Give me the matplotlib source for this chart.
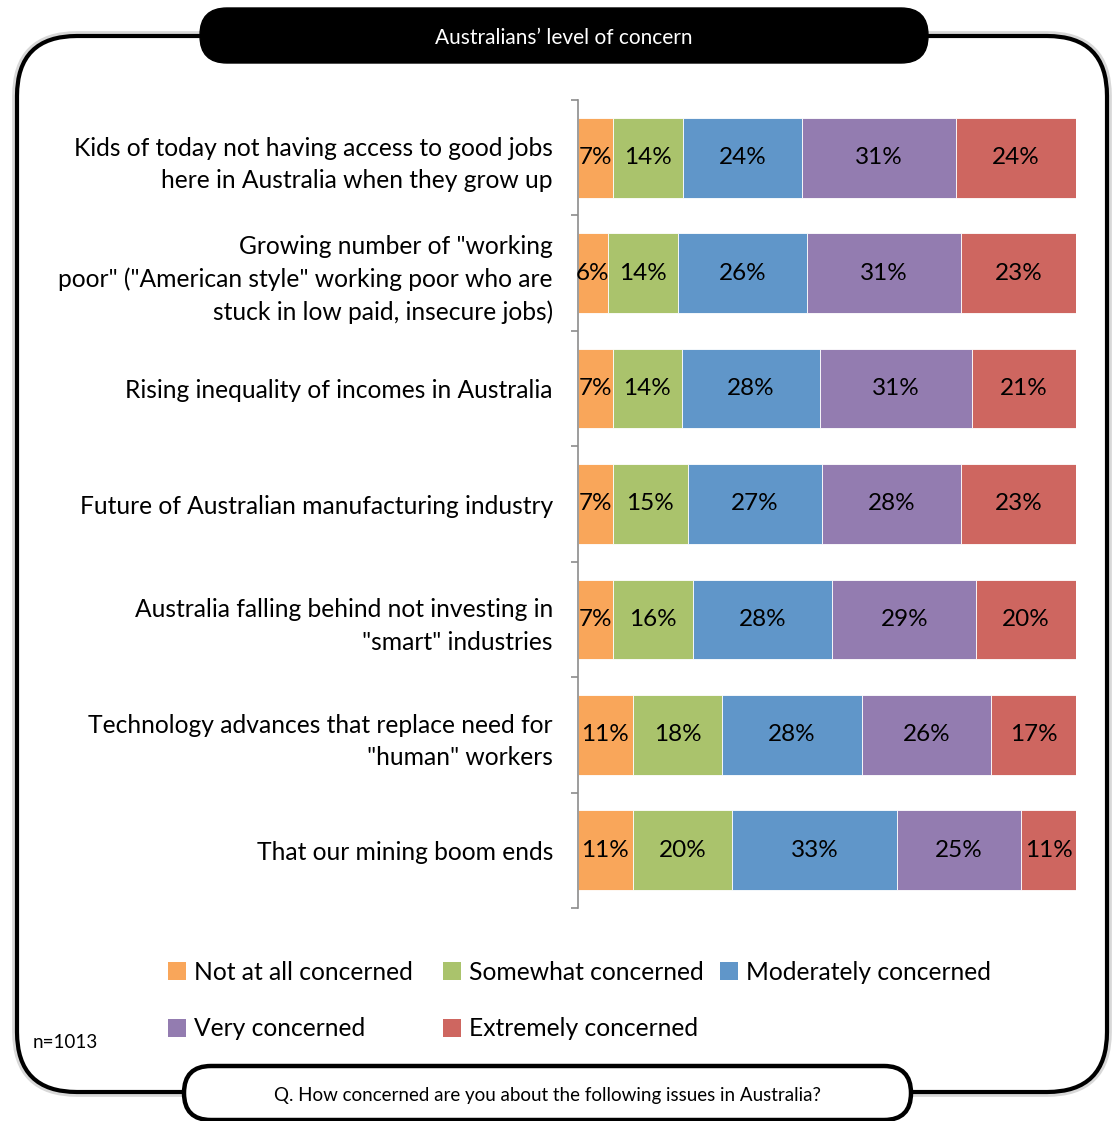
import numpy as np
import matplotlib
matplotlib.use("Agg")
import matplotlib.pyplot as plt
from matplotlib.patches import FancyBboxPatch, Patch

plt.rcParams['font.family'] = ['Lato', 'DejaVu Sans']

# survey results, % of respondents per issue
issues = [
    "Kids of today not having access to good jobs\nhere in Australia when they grow up",
    "Growing number of \"working\npoor\" (\"American style\" working poor who are\nstuck in low paid, insecure jobs)",
    "Rising inequality of incomes in Australia",
    "Future of Australian manufacturing industry",
    "Australia falling behind not investing in\n\"smart\" industries",
    "Technology advances that replace need for\n\"human\" workers",
    "That our mining boom ends",
]
levels = ["Not at all concerned", "Somewhat concerned", "Moderately concerned",
          "Very concerned", "Extremely concerned"]
not_at_all = [7, 6, 7, 7, 7, 11, 11]
somewhat = [14, 14, 14, 15, 16, 18, 20]
moderately = [24, 26, 28, 27, 28, 28, 33]
very = [31, 31, 31, 28, 29, 26, 25]
extremely = [24, 23, 21, 23, 20, 17, 11]
colors = ['#F9A65A', '#AAC36C', '#6096C9', '#937CB0', '#CE6660']

vals = np.array([not_at_all, somewhat, moderately, very, extremely], dtype=float)
shares = vals / vals.sum(axis=0) * 100  # 100% stacked

W, H = 1113, 1121
fig = plt.figure(figsize=(W / 100, H / 100), dpi=100)

# decoration layer in pixel coords
bg = fig.add_axes([0, 0, 1, 1], zorder=0)
bg.set_xlim(0, W)
bg.set_ylim(H, 0)
bg.axis('off')

frame_kw = dict(boxstyle="round,pad=0,rounding_size=60", facecolor='white')
bg.add_patch(FancyBboxPatch((17, 36), 1090, 1056, edgecolor='#d8d8d8', lw=7, **frame_kw))
bg.add_patch(FancyBboxPatch((17, 36), 1090, 1056, edgecolor='black', lw=3, **frame_kw))

bg.add_patch(FancyBboxPatch((200, 8), 728, 55, boxstyle="round,pad=0,rounding_size=27",
                            facecolor='black', edgecolor='black', lw=1))
bg.text(564, 38, "Australians\u2019 level of concern", color='white', fontsize=15,
        ha='center', va='center')

bg.add_patch(FancyBboxPatch((184, 1066), 727, 54, boxstyle="round,pad=0,rounding_size=27",
                            facecolor='white', edgecolor='black', lw=3.2))
bg.text(548, 1096, "Q. How concerned are you about the following issues in Australia?",
        color='black', fontsize=13.5, ha='center', va='center')

bg.text(33, 1043, "n=1013", fontsize=13.5, ha='left', va='center')

# main chart
ax = fig.add_axes([578 / W, 1 - 908 / H, (1076 - 578) / W, (908 - 100) / H], zorder=1)
y = np.arange(len(issues))
left = np.zeros(len(issues))
for k in range(len(levels)):
    ax.barh(y, shares[k], left=left, height=0.69, color=colors[k],
            edgecolor='white', linewidth=0.6, label=levels[k])
    for i in range(len(issues)):
        ax.text(left[i] + shares[k][i] / 2, y[i], f"{int(vals[k][i])}%",
                ha='center', va='center', fontsize=17.5, color='black')
    left += shares[k]

ax.set_xlim(0, 100)
ax.set_ylim(len(issues) - 0.5, -0.5)
ax.set_yticks(y)
ax.set_yticklabels(issues, fontsize=17.7, linespacing=1.48)
ax.tick_params(axis='y', which='major', length=0, pad=18)
ax.set_yticks(np.arange(len(issues) + 1) - 0.5, minor=True)
ax.tick_params(axis='y', which='minor', length=5, width=1.2, color='#8c8c8c')
ax.set_xticks([])
for s in ['top', 'right', 'bottom']:
    ax.spines[s].set_visible(False)
ax.spines['left'].set_color('#8c8c8c')
ax.spines['left'].set_linewidth(1.2)
ax.set_facecolor('none')

# legend: three equal-width columns, read across rows
columns = [[0, 3], [1, 4], [2]]
col_x = [168, 443, 720]
for cx, col in zip(col_x, columns):
    handles = [Patch(facecolor=colors[k], edgecolor='none') for k in col]
    leg = fig.legend(handles, [levels[k] for k in col], loc='upper left',
                     bbox_to_anchor=(cx / W, 1 - 961 / H), ncol=1, frameon=False,
                     fontsize=17.7, handlelength=0.75, handleheight=0.75,
                     handletextpad=0.3, labelspacing=1.35, borderpad=0,
                     borderaxespad=0)

fig.savefig("out.png", dpi=100)
